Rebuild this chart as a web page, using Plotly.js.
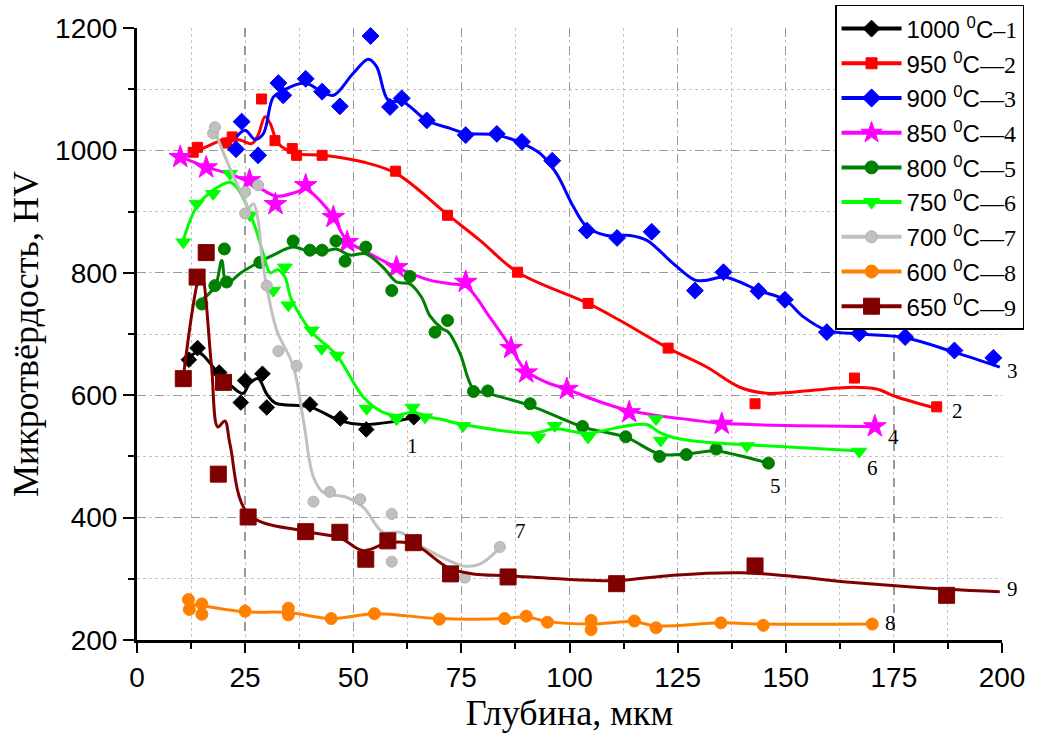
<!DOCTYPE html>
<html>
<head>
<meta charset="utf-8">
<script src="https://cdn.plot.ly/plotly-3.0.1.min.js"></script>
<style>html,body{margin:0;padding:0;background:#fff;}#chart{width:1038px;height:735px;}</style>
</head>
<body>
<div id="chart"></div>
<script>
// ---- Series names ----
const names = ["1000", "950", "900", "850", "800", "750", "700", "600", "650"];
const curveNums = ["1", "2", "3", "4", "5", "6", "7", "8", "9"];

// ---- Measured points (markers) ----
const m1x = [12, 14, 19, 24, 25, 29, 30, 40, 47, 53, 64];
const m1y = [658, 677, 637, 588, 624, 635, 580, 585, 562, 544, 564];
const m2x = [13, 14, 20.7, 22, 28.8, 31.9, 35.9, 36.9, 42.8, 59.8, 71.8, 88, 104.3, 122.8, 142.9, 165.9, 184.9];
const m2y = [997, 1005, 1012, 1022, 1084, 1016, 1003, 992, 992, 966, 894, 801, 750, 677, 586, 628, 581];
const m3x = [22.9, 24.2, 28, 32.7, 33.8, 39, 42.8, 46.9, 54, 58.5, 61.2, 67, 76, 83.2, 89, 96, 104, 111, 119, 129, 135.6, 143.7, 149.8, 159.5, 167, 177.6, 189, 198];
const m3y = [1002, 1047, 992, 1110, 1090, 1117, 1096, 1072, 1187, 1071, 1085, 1049, 1025, 1027, 1014, 983, 869, 857, 867, 771, 801, 770, 756, 703, 701, 695, 673, 661];
const m4x = [10, 16, 26, 32, 39, 45.4, 48.6, 60, 76, 86.5, 90, 99.4, 113.8, 135.2, 170.6];
const m4y = [989, 972, 951, 912, 943, 891, 850, 809, 785, 677, 637, 610, 572, 553, 549];
const m5x = [15, 18, 20.2, 20.7, 28.4, 36.1, 40, 42.8, 46, 48.1, 52.9, 58.9, 63.1, 68.9, 71.8, 77.8, 81.1, 90.9, 103, 113, 120.8, 127, 133.9, 146];
const m5y = [749, 779, 839, 785, 817, 852, 837, 837, 852, 819, 842, 771, 794, 703, 722, 606, 607, 586, 549, 532, 500, 503, 512, 489];
const m6x = [10.7, 13.8, 17.6, 21.5, 26.1, 31.5, 34.2, 35, 40.4, 42.7, 46.2, 53.1, 60, 63.7, 66.6, 75.4, 92.8, 96.6, 104.3, 120, 121.1, 141, 167];
const m6y = [850, 913, 929, 962, 894, 771, 809, 747, 706, 676, 665, 578, 561, 580, 564, 550, 531, 550, 531, 561, 526, 517, 508];
const m7x = [17.6, 18, 25, 25, 28, 30, 32.7, 36.9, 40.8, 44.6, 51.6, 58.9, 58.9, 75.8, 83.9];
const m7y = [1028, 1038, 932, 897, 943, 779, 672, 648, 426, 442, 430, 406, 328, 302, 352];
const m8x = [11.9, 12.1, 15, 15, 25, 35, 35, 44.9, 54.9, 69.9, 85, 90, 94.9, 105, 105, 115, 120, 135, 144.8, 170];
const m8y = [266, 250, 259, 242, 247, 252, 241, 235, 243, 234, 235, 239, 229, 232, 217, 231, 220, 228, 224, 226];
const m9x = [10.7, 13.9, 16, 18.8, 20, 25.7, 39, 46.9, 52.9, 58, 63.9, 72.5, 85.8, 110.9, 142.9, 187.2];
const m9y = [627, 793, 833, 471, 621, 401, 377, 376, 332, 362, 359, 308, 303, 292, 321, 273];

// ---- Smoothed fit curves ----
const c1x = [11, 14, 19, 24.5, 26, 28, 30, 32, 40, 47, 52, 58.5, 64];
const c1y = [650, 670, 635, 603, 619, 627, 602, 587, 581, 558, 552, 556, 564];
const c2x = [13, 16.1, 20.7, 23.8, 26.5, 28, 29.6, 30.8, 32.7, 36.9, 43.1, 52.3, 60, 71.8, 79.3, 88, 104.3, 111.7, 122.8, 131.7, 139.4, 145.6, 151.7, 165.6, 171, 175.7, 184.1];
const c2y = [995, 1006, 1019, 1017, 1011, 1025, 1055, 1044, 1011, 995, 992, 981, 962, 895, 853, 801, 750, 722, 677, 646, 613, 603, 605, 613, 610, 597, 580];
const c3x = [23, 25, 27.3, 29.2, 31.5, 33.8, 38.8, 42.7, 45.4, 50, 53.5, 55.4, 58.1, 61.6, 67, 72.4, 76.1, 83.2, 88.9, 93.2, 97, 100.9, 104, 108.6, 114, 117.9, 124, 129, 131.7, 135.6, 139.4, 143.7, 149.8, 154.1, 159.5, 167.2, 177.6, 189.1, 199.5];
const c3y = [1022, 1033, 1018, 1027, 1087, 1098, 1110, 1096, 1090, 1126, 1149, 1137, 1082, 1079, 1049, 1036, 1028, 1025, 1012, 995, 962, 908, 875, 861, 861, 853, 815, 788, 788, 793, 785, 771, 756, 728, 706, 700, 694, 670, 646];
const c4x = [10, 16.1, 21.5, 26.1, 29.2, 32.3, 36.9, 39, 42.3, 45.4, 48.5, 52.3, 60, 67.7, 72.4, 76.2, 81.6, 86.5, 89.9, 94.7, 99.4, 106.3, 113.7, 120.2, 127.9, 135.2, 170.6];
const c4y = [990, 973, 961, 948, 935, 925, 932, 937, 918, 891, 853, 837, 809, 788, 782, 777, 727, 677, 640, 621, 610, 591, 575, 567, 560, 554, 549];
const c5x = [14.2, 18, 19.6, 20.7, 23.8, 28.4, 31.5, 36.1, 40, 42.8, 46, 49.2, 52.9, 56.9, 60, 63.1, 65.8, 67.7, 70.5, 72, 74.7, 77.8, 81.1, 90.9, 103.1, 113.1, 120.8, 126.9, 133.9, 139.4, 146];
const c5y = [752, 777, 820, 782, 799, 818, 829, 842, 834, 834, 839, 829, 831, 809, 785, 782, 760, 730, 709, 703, 668, 610, 603, 583, 548, 531, 504, 504, 509, 501, 489];
const c6x = [10.7, 13.8, 17.6, 21.5, 23, 25, 27.3, 29.2, 30.8, 32.5, 34.2, 35.5, 37.5, 40.4, 46.2, 52.3, 56.9, 60, 63.7, 67.7, 70.1, 75.4, 91.6, 96.6, 104.3, 112.4, 117.8, 120.9, 124, 131.7, 141, 167.2];
const c6y = [853, 908, 935, 948, 940, 916, 875, 831, 800, 805, 793, 760, 733, 703, 665, 597, 572, 567, 572, 564, 561, 552, 538, 545, 538, 549, 552, 539, 531, 523, 519, 509];
const c7x = [18, 20.7, 23.05, 25, 25.7, 26.9, 28, 28.8, 30, 32.3, 36.1, 38.5, 40.8, 43.1, 48.5, 52.3, 56.9, 60.8, 66.2, 72.4, 75.4, 79.3, 83.9];
const c7y = [1031, 984, 946, 918, 905, 913, 886, 831, 777, 706, 648, 558, 466, 441, 433, 417, 376, 376, 351, 329, 321, 324, 351];
const c8x = [12, 15, 25, 35, 44.9, 54.9, 69.9, 85, 90, 94.9, 105, 115, 120, 135, 144.8, 170];
const c8y = [258, 256, 246, 245, 235, 243, 235, 235, 238, 230, 226, 230, 223, 228, 226, 226];
const c9x = [10.7, 14.8, 17.2, 18.7, 20.3, 21.5, 25.7, 38.5, 46.9, 52.3, 58.1, 63.9, 72, 77.8, 85.8, 100.1, 110.9, 124, 139.4, 150.2, 165.6, 187.2, 199.5];
const c9y = [629, 800, 650, 548, 558, 520, 406, 378, 367, 346, 359, 357, 318, 308, 305, 299, 297, 306, 310, 305, 294, 283, 279];

// ---- Axis ticks ----
const xTicks = [0, 25, 50, 75, 100, 125, 150, 175, 200];
const yTicks = [200, 400, 600, 800, 1000, 1200];

const mx = [m1x, m2x, m3x, m4x, m5x, m6x, m7x, m8x, m9x];
const my = [m1y, m2y, m3y, m4y, m5y, m6y, m7y, m8y, m9y];
const cx = [c1x, c2x, c3x, c4x, c5x, c6x, c7x, c8x, c9x];
const cy = [c1y, c2y, c3y, c4y, c5y, c6y, c7y, c8y, c9y];

const styles = [
  {color: '#000000', symbol: 'diamond', size: 12, line: '#000000'},
  {color: '#ff0000', symbol: 'square', size: 10, line: '#ff0000'},
  {color: '#0000ff', symbol: 'diamond', size: 13, line: '#0000ff'},
  {color: '#ff00ff', symbol: 'star', size: 17, line: '#ff00ff'},
  {color: '#008000', symbol: 'circle', size: 12, line: '#008000'},
  {color: '#00ff00', symbol: 'triangle-down', size: 13, line: '#00ff00'},
  {color: '#c0c0c0', symbol: 'circle', size: 11, line: '#b0b0b0'},
  {color: '#ff8000', symbol: 'circle', size: 12, line: '#ff8000'},
  {color: '#800000', symbol: 'square', size: 16, line: '#800000'}
];
const dashes = ['–', '—', '—', '—', '—', '—', '—', '—', '—'];

const traces = [];
for (let i = 0; i < 9; i++) {
  const s = styles[i];
  traces.push({
    x: cx[i], y: cy[i], type: 'scatter', mode: 'lines',
    line: {color: s.color, width: 3, shape: 'spline', smoothing: 1},
    showlegend: false, hoverinfo: 'skip', cliponaxis: true
  });
  traces.push({
    x: mx[i], y: my[i], type: 'scatter', mode: 'markers',
    marker: {color: s.color, symbol: s.symbol, size: s.size, line: {color: s.line, width: 1}},
    showlegend: false, cliponaxis: false
  });
}
// legend entries
for (let i = 0; i < 9; i++) {
  const s = styles[i];
  traces.push({
    x: [null], y: [null], type: 'scatter', mode: 'lines+markers',
    name: names[i] + ' <sup>0</sup>C<span style="font-family:\'Liberation Serif\'">' + dashes[i] + curveNums[i] + '</span>',
    line: {color: s.color, width: 4},
    marker: {color: s.color, symbol: s.symbol, size: s.size + 1, line: {color: s.line, width: 1}},
    legendgroup: 'g' + i, showlegend: true
  });
}

const lblFont = {family: 'Liberation Serif, serif', size: 21, color: '#000'};
const annotations = [
  {x: 63.8, y: 517, xref: 'x', yref: 'y', text: '1'},
  {x: 189.8, y: 575, xref: 'x', yref: 'y', text: '2'},
  {x: 1.0116, y: 640, xref: 'paper', yref: 'y', text: '3'},
  {x: 174.8, y: 532, xref: 'x', yref: 'y', text: '4'},
  {x: 147.7, y: 452, xref: 'x', yref: 'y', text: '5'},
  {x: 170.0, y: 481, xref: 'x', yref: 'y', text: '6'},
  {x: 88.6, y: 378, xref: 'x', yref: 'y', text: '7'},
  {x: 174.3, y: 228, xref: 'x', yref: 'y', text: '8'},
  {x: 1.0127, y: 283, xref: 'paper', yref: 'y', text: '9'}
].map(a => Object.assign(a, {showarrow: false, font: lblFont, xanchor: 'center', yanchor: 'middle'}));

const layout = {
  width: 1038, height: 735,
  margin: {l: 137, r: 36, t: 28, b: 95, autoexpand: false},
  paper_bgcolor: '#fff', plot_bgcolor: '#fff',
  showlegend: true,
  xaxis: {
    range: [0, 200], tickvals: xTicks, ticktext: xTicks.map(String), automargin: false,
    showline: true, linecolor: '#000', linewidth: 3,
    ticks: 'outside', ticklen: 10, tickwidth: 2, tickcolor: '#000',
    showgrid: true, gridcolor: '#9a9a9a', gridwidth: 1.3, griddash: 'dash',
    zeroline: false,
    tickfont: {family: 'Liberation Sans, Arial, sans-serif', size: 28, color: '#000'},
    minor: {dtick: 12.5, tick0: 0, ticks: 'outside', ticklen: 6, tickwidth: 2, tickcolor: '#000', showgrid: true, gridcolor: '#c4c4c4', gridwidth: 1, griddash: 'dot'},
    title: {text: 'Глубина, мкм', font: {family: 'Liberation Serif, serif', size: 36, color: '#000'}, standoff: 6}
  },
  yaxis: {
    range: [200, 1200], tickvals: yTicks, ticktext: yTicks.map(String), automargin: false,
    showline: true, linecolor: '#000', linewidth: 3,
    ticks: 'outside', ticklen: 11, tickwidth: 2, tickcolor: '#000',
    showgrid: true, gridcolor: '#9a9a9a', gridwidth: 1.3, griddash: 'dash',
    zeroline: false,
    tickfont: {family: 'Liberation Sans, Arial, sans-serif', size: 28, color: '#000'},
    minor: {dtick: 100, tick0: 200, ticks: 'outside', ticklen: 6, tickwidth: 2, tickcolor: '#000', showgrid: true, gridcolor: '#c4c4c4', gridwidth: 1, griddash: 'dot'},
    title: {text: 'Микротвёрдость, HV', font: {family: 'Liberation Serif, serif', size: 36, color: '#000'}, standoff: 6}
  },
  legend: {
    x: 0.807, y: 1.0376, xanchor: 'left', yanchor: 'top',
    bgcolor: '#fff', bordercolor: '#000', borderwidth: 1.5,
    font: {family: 'Liberation Sans, Arial, sans-serif', size: 24, color: '#000'},
    itemwidth: 60, tracegroupgap: 0.5, traceorder: 'grouped'
  },
  annotations: annotations
};

Plotly.newPlot('chart', traces, layout, {staticPlot: true, displayModeBar: false});
</script>
</body>
</html>
